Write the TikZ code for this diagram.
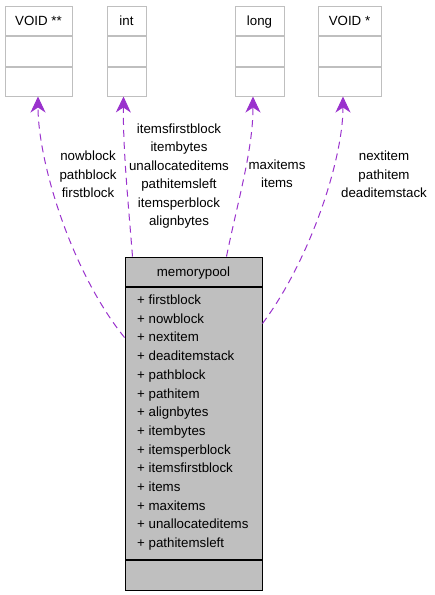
\documentclass[tikz,border=0pt]{standalone}
\usepackage{fontspec}
\setmainfont{Liberation Sans}
\usetikzlibrary{arrows.meta}
\definecolor{boxgray}{HTML}{BFBFBF}
\definecolor{edgepurple}{HTML}{9A32CD}
\tikzset{
  txt/.style={font=\fontsize{13.3}{16}\selectfont, inner sep=0pt},
  classbox/.style={draw=boxgray, line width=1pt, inner sep=0pt},
  mpbox/.style={draw=black, fill=boxgray, line width=1pt, inner sep=0pt},
  usage/.style={edgepurple, line width=1pt, dash pattern=on 7pt off 5pt,
    -{Stealth[length=16pt,width=15pt,inset=5pt]}}
}
\begin{document}
\begin{tikzpicture}[x=1pt,y=-1pt]
    \useasboundingbox (0,0) rectangle (435,595);
    % used types
    \foreach \name/\label/\xc/\w in {voidpp/VOID **/38.5/67, int/int/126.5/39,
        long/long/259.5/49, voidp/VOID */349.5/63} {
        \node[classbox, txt, text depth=0pt, minimum width=\w pt, minimum height=29pt] (\name) at (\xc,20.5) {\label};
        \node[classbox, minimum width=\w pt, minimum height=30pt, anchor=north] (\name-attr) at (\name.south) {};
        \node[classbox, minimum width=\w pt, minimum height=29pt, anchor=north] (\name-ops) at (\name-attr.south) {};
    }
    % the struct
    \node[mpbox, txt, text depth=0pt, minimum width=137pt, minimum height=29pt] (mp) at (193.5,271.5) {memorypool};
    \node[mpbox, minimum width=137pt, minimum height=272pt, anchor=north] (mp-attr) at (mp.south) {};
    \node[mpbox, minimum width=137pt, minimum height=30pt, anchor=north] (mp-ops) at (mp-attr.south) {};
    \foreach \attr [count=\i from 0] in {firstblock, nowblock, nextitem, deaditemstack,
        pathblock, pathitem, alignbytes, itembytes, itemsperblock, itemsfirstblock,
        items, maxitems, unallocateditems, pathitemsleft}
        \node[txt, anchor=base west] (attr\i) at (137,{304.5+18.7*\i}) {+ \attr};
    % usage edges
    \draw[usage] ([yshift=-51pt]mp-attr.north west) .. controls (70,270) and (38,160) .. ([xshift=-0.5pt]voidpp-ops.south);
    \draw[usage] ([xshift=8pt]mp.north west) .. controls (128,200) and (123,150) .. ([xshift=-3pt]int-ops.south);
    \draw[usage] ([xshift=-36pt]mp.north east) .. controls (238,200) and (253,150) .. ([xshift=-6.5pt]long-ops.south);
    \draw[usage] ([yshift=-37pt]mp-attr.north east) .. controls (310,260) and (343,160) .. ([xshift=-6.5pt]voidp-ops.south);
    % edge labels
    \foreach \lbl [count=\i from 0] in {nowblock, pathblock, firstblock}
        \node[txt, anchor=base] (voidpp-lbl\i) at (88,{160.5+18.5*\i}) {\lbl};
    \foreach \lbl [count=\i from 0] in {itemsfirstblock, itembytes, unallocateditems,
        pathitemsleft, itemsperblock, alignbytes}
        \node[txt, anchor=base] (int-lbl\i) at (179,{133+18.5*\i}) {\lbl};
    \foreach \lbl [count=\i from 0] in {maxitems, items}
        \node[txt, anchor=base] (long-lbl\i) at (277,{169.3+18.5*\i}) {\lbl};
    \foreach \lbl [count=\i from 0] in {nextitem, pathitem, deaditemstack}
        \node[txt, anchor=base] (voidp-lbl\i) at (384,{160.5+18.5*\i}) {\lbl};
\end{tikzpicture}
\end{document}
